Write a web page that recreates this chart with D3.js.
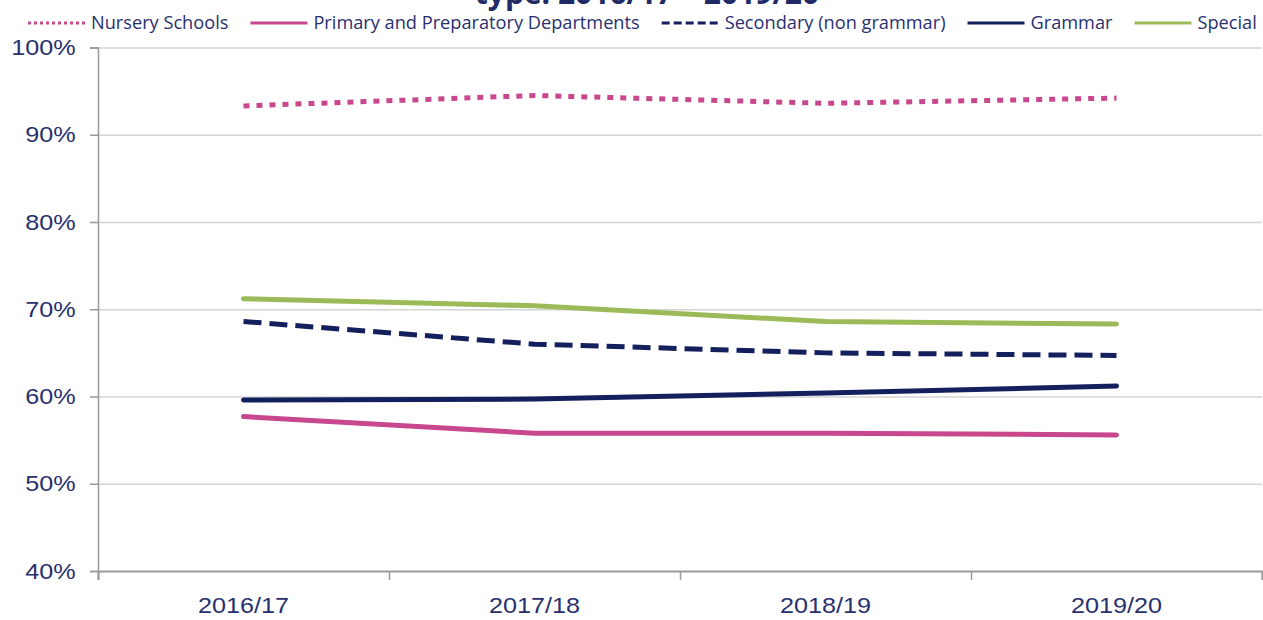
<!DOCTYPE html>
<html>
<head>
<meta charset="utf-8">
<script src="https://cdn.jsdelivr.net/npm/d3@7"></script>
<style>
  body { margin: 0; background: #fff; }
  svg { display: block; }
</style>
</head>
<body>
<div class="chart"></div>
<script>
//Data
var years = ["2016/17", "2017/18", "2018/19", "2019/20"];
var seriesNames = ["Nursery Schools", "Primary and Preparatory Departments", "Secondary (non grammar)", "Grammar", "Special"];
var nursery = [0.933, 0.945, 0.936, 0.942];
var primary = [0.577, 0.558, 0.558, 0.556];
var secondary = [0.686, 0.660, 0.650, 0.647];
var grammar = [0.596, 0.597, 0.604, 0.612];
var special = [0.712, 0.704, 0.686, 0.683];
var yTicks = [0.4, 0.5, 0.6, 0.7, 0.8, 0.9, 1.0];
var titleText = "type: 2016/17 \u2013 2019/20";

//Width and height
var w = 1263;
var h = 620;
var plotLeft = 98, plotRight = 1262, plotTop = 47.5, plotBottom = 571;

var textColor = "#28306e";

var series = [
    {name: seriesNames[0], values: nursery, color: "#c8478d", dash: "6,7", legendDash: "3,3", cap: "butt"},
    {name: seriesNames[1], values: primary, color: "#c8478d", dash: null, legendDash: null, cap: "round"},
    {name: seriesNames[2], values: secondary, color: "#141f5e", dash: "18,8", legendDash: "8,4", cap: "butt"},
    {name: seriesNames[3], values: grammar, color: "#141f5e", dash: null, legendDash: null, cap: "round"},
    {name: seriesNames[4], values: special, color: "#9bbb59", dash: null, legendDash: null, cap: "round"}
];

var svg = d3.select(".chart")
    .append("svg")
    .attr("width", w)
    .attr("height", h);

//Scales
var xScale = d3.scaleBand().domain(years).range([plotLeft, plotRight]);
var xEdges = d3.scaleLinear().domain([0, years.length]).range([plotLeft, plotRight]);
var yScale = d3.scaleLinear().domain([0.4, 1]).range([plotBottom, plotTop]);

//Gridlines
svg.append("g")
    .attr("transform", "translate(" + plotLeft + ",0)")
    .call(d3.axisLeft(yScale).tickValues(yTicks.slice(1)).tickSize(-(plotRight - plotLeft)).tickFormat(""))
    .call(g => g.select(".domain").remove())
    .selectAll("line")
    .attr("stroke", "#d4d4d4")
    .attr("stroke-width", 1.5);

//Y axis
var yAxis = svg.append("g")
    .attr("transform", "translate(" + plotLeft + ",0)")
    .call(d3.axisLeft(yScale).tickValues(yTicks).tickFormat(d3.format(".0%")).tickSize(8).tickPadding(12));
yAxis.select(".domain").attr("stroke", "#9a9a9a").attr("stroke-width", 1.5);
yAxis.selectAll("line").attr("stroke", "#9a9a9a").attr("stroke-width", 1.5);
yAxis.selectAll("text")
    .attr("fill", textColor)
    .style("font-family", "'Liberation Sans', Arial, sans-serif")
    .style("font-size", "22.5px")
    .attr("transform", "scale(1.12,1)");

//X axis ticks at category edges
var xTickAxis = svg.append("g")
    .attr("transform", "translate(0," + plotBottom + ")")
    .call(d3.axisBottom(xEdges).tickValues(d3.range(years.length + 1)).tickSize(9).tickFormat(""));
xTickAxis.select(".domain").attr("stroke", "#9a9a9a").attr("stroke-width", 2);
xTickAxis.selectAll("line").attr("stroke", "#9a9a9a").attr("stroke-width", 1.5);

//X axis labels
var xLabels = svg.append("g")
    .attr("transform", "translate(0," + plotBottom + ")")
    .call(d3.axisBottom(xScale).tickSize(0).tickPadding(26));
xLabels.select(".domain").remove();
xLabels.selectAll("text")
    .attr("fill", textColor)
    .style("font-family", "'Liberation Sans', Arial, sans-serif")
    .style("font-size", "22.5px")
    .attr("transform", "scale(1.12,1)");

//Lines
var line = d3.line()
    .x((d, i) => xScale(years[i]) + xScale.bandwidth() / 2)
    .y(d => yScale(d));

svg.selectAll(".series")
    .data(series)
    .enter()
    .append("path")
    .attr("class", "series")
    .attr("d", d => line(d.values))
    .attr("fill", "none")
    .attr("stroke", d => d.color)
    .attr("stroke-width", 5)
    .attr("stroke-linecap", d => d.cap)
    .attr("stroke-linejoin", "round")
    .attr("stroke-dasharray", d => d.dash);

//Title (cut off at top)
svg.append("text")
    .attr("x", 647)
    .attr("y", 4)
    .attr("text-anchor", "middle")
    .attr("fill", "#1f2a66")
    .style("font-family", "'Open Sans', sans-serif")
    .style("font-weight", "bold")
    .style("font-size", "30px")
    .text(titleText);

//Legend
var legend = svg.append("g").attr("class", "legend");
var lx = 28;
series.forEach(function (s) {
    legend.append("line")
        .attr("x1", lx).attr("x2", lx + 57)
        .attr("y1", 23).attr("y2", 23)
        .attr("stroke", s.color)
        .attr("stroke-width", 3)
        .attr("stroke-dasharray", s.legendDash);
    var t = legend.append("text")
        .attr("x", lx + 63)
        .attr("y", 29)
        .attr("fill", textColor)
        .style("font-family", "'Open Sans', sans-serif")
        .style("font-size", "18.2px")
        .text(s.name);
    lx += 63 + t.node().getComputedTextLength() + 22;
});
</script>
</body>
</html>
